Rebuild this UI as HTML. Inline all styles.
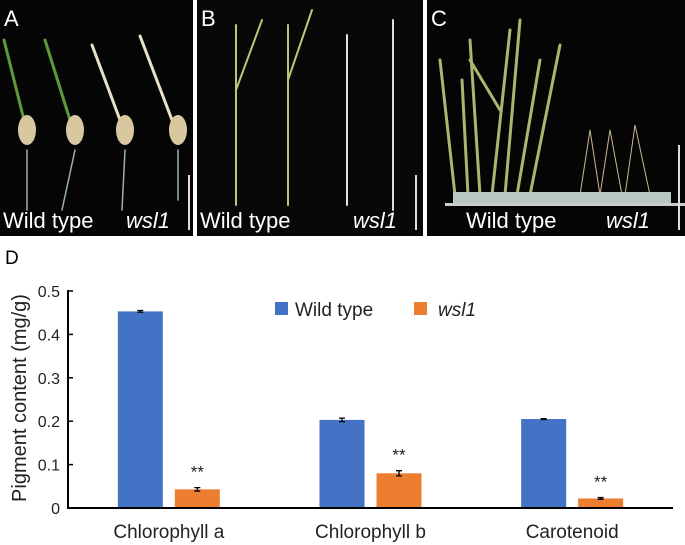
<!DOCTYPE html>
<html><head><meta charset="utf-8"><style>
body{margin:0;background:#fff;width:685px;height:545px;overflow:hidden;font-family:"Liberation Sans",Arial,sans-serif}
svg{display:block}
</style></head><body>
<svg width="685" height="545" viewBox="0 0 685 545">
<g>
 <rect x="0" y="0" width="193" height="236" fill="#050505"/>
 <rect x="197" y="0" width="226" height="236" fill="#080808"/>
 <rect x="427" y="0" width="258" height="236" fill="#050505"/>
 <g stroke-linecap="round" fill="none">
  <path d="M4 40 L24 120 M45 40 L70 120" stroke="#5a9a3a" stroke-width="3"/>
  <path d="M92 45 L120 120 M140 36 L172 120" stroke="#e8e0c8" stroke-width="3"/>
  <path d="M27 150 L27 210 M75 150 L62 210 M125 150 L122 210 M178 150 L178 200" stroke="#9ab0b8" stroke-width="1.5"/>
 </g>
 <g fill="#d8c8a0"><ellipse cx="27" cy="130" rx="9" ry="15"/><ellipse cx="75" cy="130" rx="9" ry="15"/><ellipse cx="125" cy="130" rx="9" ry="15"/><ellipse cx="178" cy="130" rx="9" ry="15"/></g>
 <rect x="188" y="175" width="2" height="55" fill="#ddd"/>
 <g stroke-linecap="round" fill="none" stroke-width="2">
  <path d="M236 25 L236 205 M236 90 L262 20 M288 25 L288 205 M288 80 L312 10" stroke="#b8c878"/>
  <path d="M347 35 L347 205 M393 20 L393 210" stroke="#e0e0d8"/>
 </g>
 <rect x="415" y="175" width="2" height="55" fill="#ddd"/>
 <g stroke-linecap="round" fill="none" stroke-width="3" stroke="#a8b870">
  <path d="M455 195 L440 60 M468 195 L462 80 M480 195 L470 40 M492 195 L510 30 M505 195 L520 20 M517 195 L540 60 M530 195 L560 45 M470 60 L500 110"/>
 </g>
 <g stroke-linecap="round" fill="none" stroke-width="1" stroke="#c8b890">
  <path d="M580 195 L590 130 L600 195 M600 195 L610 130 L622 195 M625 195 L635 125 L650 195"/>
 </g>
 <rect x="453" y="192" width="218" height="12" fill="#b8c8c0"/>
 <rect x="445" y="203" width="240" height="3" fill="#ccc"/>
 <rect x="678" y="145" width="2" height="85" fill="#ddd"/>
 <g fill="#fff" font-size="22">
  <text x="4" y="26">A</text>
  <text x="201" y="26">B</text>
  <text x="431" y="26">C</text>
  <text x="3" y="228">Wild type</text>
  <text x="126" y="228" font-style="italic">wsl1</text>
  <text x="200" y="228">Wild type</text>
  <text x="353" y="228" font-style="italic">wsl1</text>
  <text x="466" y="228">Wild type</text>
  <text x="606" y="228" font-style="italic">wsl1</text>
 </g>
</g>
<text x="5" y="264" font-size="19" fill="#000">D</text>
<g id="chart"></g>
</svg>
<script>
const categories=["Chlorophyll a","Chlorophyll b","Carotenoid"];
const wildType=[0.453,0.203,0.205];
const wsl1=[0.043,0.080,0.022];
const wildErr=[0.002,0.004,0.001];
const wslErr=[0.004,0.006,0.002];
const yTicks=[0,0.1,0.2,0.3,0.4,0.5];
const yTickLabels=["0","0.1","0.2","0.3","0.4","0.5"];
const NS="http://www.w3.org/2000/svg";
const g=document.getElementById('chart');
const X0=68,X1=673,Y0=508,Ymax=291;
const y=v=>Y0-(v/0.5)*(Y0-Ymax);
const band=(X1-X0)/categories.length;
const cx=i=>X0+band*(i+0.5);
function mk(t,a,txt){const e=document.createElementNS(NS,t);for(const k in a)e.setAttribute(k,a[k]);if(txt!=null)e.textContent=txt;g.appendChild(e);return e;}
let e;
e=mk('line',{x1:X0,y1:Ymax-1,x2:X0,y2:Y0+1,stroke:'#000','stroke-width':2});


yTicks.forEach((t,i)=>{
 e=mk('line',{x1:X0,y1:y(t),x2:X0+5,y2:y(t),stroke:'#000','stroke-width':1.5});
 
 
 e=mk('text',{x:X0-8,y:y(t)+6,'text-anchor':'end','font-size':16,fill:'#222'},yTickLabels[i]);
 
 
});
e=mk('text',{x:0,y:0,transform:'translate(26,398) rotate(-90)','text-anchor':'middle','font-size':20,fill:'#222'},'Pigment content (mg/g)');


function bar(v,err,xc,col,name){
 e=mk('rect',{x:xc-22.5,y:y(v),width:45,height:Y0-y(v),fill:col});
 
 
 e=mk('path',{d:`M${xc-3} ${y(v+err)}H${xc+3}M${xc} ${y(v+err)}V${y(v-err)}M${xc-3} ${y(v-err)}H${xc+3}`,stroke:'#000','stroke-width':1.3,fill:'none'});
 
 
}
categories.forEach((c,i)=>{
 bar(wildType[i],wildErr[i],cx(i)-28.5,'#4472c4','bar-wild-type');
 bar(wsl1[i],wslErr[i],cx(i)+28.5,'#ed7d31','bar-wsl1');
 e=mk('text',{x:cx(i)+28.5,y:y(wsl1[i]+wslErr[i])-10,'text-anchor':'middle','font-size':17,fill:'#222'},'**');
 
 
 e=mk('text',{x:cx(i),y:538,'text-anchor':'middle','font-size':19,fill:'#222'},c);
 
 
});
e=mk('line',{x1:X0,y1:Y0,x2:X1,y2:Y0,stroke:'#000','stroke-width':2});


e=mk('rect',{x:275,y:302,width:13,height:13,fill:'#4472c4'});


e=mk('text',{x:295,y:316,'font-size':19,fill:'#222'},'Wild type');


e=mk('rect',{x:414,y:302,width:13,height:13,fill:'#ed7d31'});


e=mk('text',{x:438,y:316,'font-size':19,'font-style':'italic',fill:'#222'},'wsl1');


</script>
</body></html>
